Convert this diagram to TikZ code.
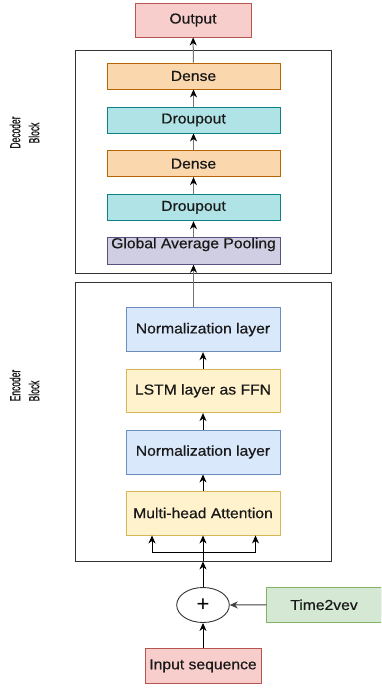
\documentclass[tikz,border=0pt]{standalone}
\usepackage{fontspec}
\setmainfont{Liberation Sans}
\newfontfamily\semib[FakeBold=0.5]{Liberation Sans}
\newfontfamily\sideb[FakeBold=1.2]{Liberation Sans}
\usetikzlibrary{arrows.meta,shapes.geometric,calc}
\definecolor{redf}{HTML}{F8CECC}\definecolor{redd}{HTML}{B85450}
\definecolor{orf}{HTML}{FAD7AC}\definecolor{ord}{HTML}{B46504}
\definecolor{cyf}{HTML}{B0E3E6}\definecolor{cyd}{HTML}{0E8088}
\definecolor{puf}{HTML}{D0CEE2}\definecolor{pud}{HTML}{56517E}
\definecolor{blf}{HTML}{DAE8FC}\definecolor{bld}{HTML}{6C8EBF}
\definecolor{yef}{HTML}{FFF2CC}\definecolor{yed}{HTML}{D6B656}
\definecolor{grf}{HTML}{D5E8D4}\definecolor{grd}{HTML}{82B366}
\newcommand\sx[1]{\scalebox{1.09}[1]{#1}}
\newcommand\sq[1]{\scalebox{0.58}[1]{#1}}
\tikzset{
  lbl/.style={font=\semib\fontsize{14.4pt}{16pt}\selectfont, text=black!90},
  layer/.style={lbl, draw, line width=0.9pt, inner sep=0pt, minimum width=#1},
  layer/.default=173pt,
  blockbox/.style={draw=black!80, line width=0.9pt, inner sep=0pt},
  arr/.style={-{Stealth[length=8pt,width=7pt,inset=2.5pt]}, line width=1pt},
  garr/.style={-{Stealth[length=8pt,width=7pt,inset=2.5pt,color=black]}, line width=1pt, draw=black!55},
  side/.style={rotate=90, font=\sideb\fontsize{14.6pt}{16pt}\selectfont, text=black!90, inner sep=0pt},
}
\begin{document}
\begin{tikzpicture}[x=1pt,y=-1pt]
\clip (0,0) rectangle (381,692);
\fill[white] (0,0) rectangle (381,692);
% blocks
\node[blockbox, minimum width=256pt, minimum height=223pt] (dec) at (203,161.5) {};
\node[blockbox, minimum width=256pt, minimum height=279pt] (enc) at (203,421.5) {};
\node[side] (declbl1) at (15,132.5) {\sq{Decoder}};
\node[side] (declbl2) at (34,133) {\sq{Block}};
\node[side] (enclbl1) at (15,385.5) {\sq{Encoder}};
\node[side] (enclbl2) at (34,391) {\sq{Block}};
% decoder
\node[layer=116pt, fill=redf, draw=redd, minimum height=34pt] (out) at (193,20) {\sx{Output}};
\node[layer, fill=orf, draw=ord, minimum height=26pt] (dense1) at (193.5,76) {\sx{Dense}};
\node[layer, fill=cyf, draw=cyd, minimum height=26pt] (drop1) at (193.5,120) {\sx{Droupout}};
\node[layer, fill=orf, draw=ord, minimum height=26pt] (dense2) at (193.5,163.7) {\sx{Dense}};
\node[layer, fill=cyf, draw=cyd, minimum height=26.7pt] (drop2) at (193.5,207.4) {\sx{Droupout}};
\node[layer, fill=puf, draw=pud, minimum height=26.6pt] (gap) at (193.5,251) {};
\node[lbl] (gaptxt) at (193.5,244.5) {\sx{Global Average Pooling}};
% encoder
\node[layer=154pt, fill=blf, draw=bld, minimum height=44pt] (norm1) at (203,329.7) {\sx{Normalization layer}};
\node[layer=154pt, fill=yef, draw=yed, minimum height=43.7pt] (lstm) at (203,390.8) {\sx{LSTM layer as FFN}};
\node[layer=154pt, fill=blf, draw=bld, minimum height=44pt] (norm2) at (203,452) {\sx{Normalization layer}};
\node[layer=154pt, fill=yef, draw=yed, minimum height=44pt] (mha) at (203,513) {\sx{Multi-head Attention}};
% input side
\node[ellipse, draw=black!80, line width=0.9pt, fill=white, minimum width=52.6pt, minimum height=35pt, inner sep=0pt, font=\fontsize{22pt}{24pt}\selectfont] (plus) at (203,605) {+};
\node[layer=114.3pt, fill=grf, draw=grd, minimum height=35pt] (t2v) at (324,604.8) {\sx{Time2vev}};
\node[layer=116pt, fill=redf, draw=redd, minimum height=35pt] (inp) at (203,665.8) {\sx{Input sequence}};
% decoder arrows
\draw[garr] (dense1) -- (out);
\draw[garr] (drop1) -- (dense1);
\draw[garr] (dense2) -- (drop1);
\draw[garr] (drop2) -- (dense2);
\draw[garr] (gap) -- (drop2);
\draw[garr] (norm1.north -| gap.south) -- (gap.south);
% encoder arrows
\draw[arr] (lstm) -- (norm1);
\draw[arr] (norm2) -- (lstm);
\draw[arr] (mha) -- (norm2);
\coordinate (split) at (203,552.3);
\coordinate (splitL) at (152,552.3);
\coordinate (splitR) at (255.5,552.3);
\draw[line width=1pt] (splitL) -- (splitR);
\draw[arr] (split) -- (mha.south);
\draw[arr] (splitL) -- (splitL |- mha.south);
\draw[arr] (splitR) -- (splitR |- mha.south);
\draw[line width=1pt] (enc.south) -- (split);
\draw[arr] (plus.north) -- (enc.south);
\draw[arr] (inp.north) -- (plus.south);
\draw[arr, draw=black!75] (t2v.west) -- (plus.east);
\end{tikzpicture}
\end{document}
